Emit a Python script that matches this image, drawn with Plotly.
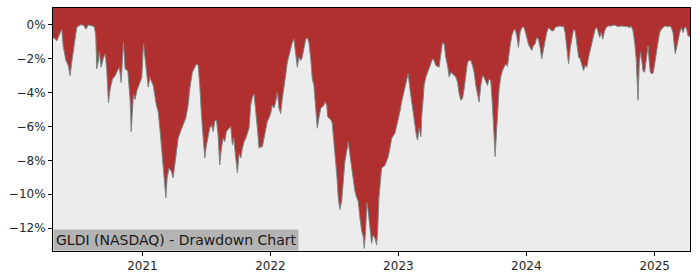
import pandas as pd
import plotly.graph_objects as go

# Decimal-year positions and drawdown values (%)
years = [
    2020.303, 2020.311, 2020.332, 2020.358, 2020.371, 2020.383, 2020.404, 2020.422, 2020.436, 2020.449,
    2020.467, 2020.488, 2020.514, 2020.539, 2020.560, 2020.578, 2020.605, 2020.625, 2020.636, 2020.644,
    2020.657, 2020.664, 2020.678, 2020.696, 2020.711, 2020.722, 2020.735, 2020.748, 2020.766, 2020.787,
    2020.805, 2020.820, 2020.834, 2020.852, 2020.865, 2020.886, 2020.904, 2020.912, 2020.930, 2020.943,
    2020.956, 2020.977, 2020.995, 2021.008, 2021.031, 2021.045, 2021.058, 2021.084, 2021.109, 2021.123,
    2021.136, 2021.148, 2021.162, 2021.175, 2021.183, 2021.193, 2021.208, 2021.226, 2021.240, 2021.253,
    2021.265, 2021.279, 2021.297, 2021.318, 2021.339, 2021.357, 2021.370, 2021.390, 2021.409, 2021.422,
    2021.435, 2021.448, 2021.461, 2021.474, 2021.487, 2021.500, 2021.513, 2021.526, 2021.539, 2021.552,
    2021.565, 2021.578, 2021.591, 2021.604, 2021.617, 2021.630, 2021.643, 2021.656, 2021.677, 2021.690,
    2021.703, 2021.714, 2021.729, 2021.742, 2021.755, 2021.768, 2021.781, 2021.794, 2021.807, 2021.820,
    2021.833, 2021.846, 2021.859, 2021.872, 2021.885, 2021.898, 2021.911, 2021.924, 2021.937, 2021.950,
    2021.963, 2021.976, 2021.989, 2022.002, 2022.015, 2022.028, 2022.041, 2022.054, 2022.067, 2022.080,
    2022.093, 2022.106, 2022.119, 2022.132, 2022.145, 2022.158, 2022.171, 2022.184, 2022.198, 2022.210,
    2022.223, 2022.237, 2022.249, 2022.262, 2022.276, 2022.288, 2022.301, 2022.315, 2022.327, 2022.340,
    2022.354, 2022.366, 2022.379, 2022.393, 2022.405, 2022.418, 2022.426, 2022.440, 2022.447, 2022.473,
    2022.483, 2022.499, 2022.510, 2022.520, 2022.530, 2022.543, 2022.557, 2022.569, 2022.582, 2022.596,
    2022.608, 2022.621, 2022.635, 2022.647, 2022.660, 2022.674, 2022.686, 2022.699, 2022.713, 2022.725,
    2022.733, 2022.744, 2022.754, 2022.764, 2022.778, 2022.791, 2022.803, 2022.817, 2022.830, 2022.838,
    2022.848, 2022.858, 2022.869, 2022.895, 2022.920, 2022.934, 2022.947, 2022.973, 2022.986, 2022.998,
    2023.012, 2023.025, 2023.037, 2023.051, 2023.064, 2023.076, 2023.090, 2023.103, 2023.116, 2023.129,
    2023.142, 2023.150, 2023.162, 2023.176, 2023.183, 2023.194, 2023.201, 2023.215, 2023.228, 2023.240,
    2023.254, 2023.267, 2023.279, 2023.293, 2023.306, 2023.318, 2023.332, 2023.345, 2023.358, 2023.371,
    2023.384, 2023.397, 2023.410, 2023.423, 2023.436, 2023.449, 2023.462, 2023.475, 2023.488, 2023.501,
    2023.514, 2023.527, 2023.540, 2023.553, 2023.566, 2023.579, 2023.592, 2023.605, 2023.618, 2023.631,
    2023.644, 2023.657, 2023.670, 2023.683, 2023.696, 2023.709, 2023.722, 2023.735, 2023.748, 2023.756,
    2023.767, 2023.774, 2023.787, 2023.800, 2023.813, 2023.826, 2023.839, 2023.852, 2023.860, 2023.873,
    2023.886, 2023.899, 2023.912, 2023.925, 2023.938, 2023.951, 2023.964, 2023.977, 2023.990, 2024.003,
    2024.016, 2024.029, 2024.042, 2024.055, 2024.068, 2024.081, 2024.094, 2024.107, 2024.120, 2024.134,
    2024.146, 2024.159, 2024.173, 2024.185, 2024.198, 2024.212, 2024.224, 2024.237, 2024.251, 2024.263,
    2024.276, 2024.290, 2024.302, 2024.315, 2024.329, 2024.341, 2024.354, 2024.368, 2024.380, 2024.393,
    2024.407, 2024.419, 2024.432, 2024.446, 2024.458, 2024.471, 2024.485, 2024.497, 2024.511, 2024.524,
    2024.536, 2024.550, 2024.563, 2024.571, 2024.583, 2024.596, 2024.610, 2024.622, 2024.635, 2024.661,
    2024.688, 2024.713, 2024.739, 2024.766, 2024.792, 2024.805, 2024.817, 2024.831, 2024.844, 2024.856,
    2024.870, 2024.880, 2024.891, 2024.901, 2024.909, 2024.922, 2024.934, 2024.948, 2024.956, 2024.966,
    2024.979, 2024.989, 2025.000, 2025.012, 2025.026, 2025.039, 2025.052, 2025.065, 2025.078, 2025.104,
    2025.117, 2025.130, 2025.143, 2025.151, 2025.161, 2025.172, 2025.182, 2025.195, 2025.208, 2025.221,
    2025.229, 2025.239, 2025.250, 2025.260, 2025.276,
]

drawdown = [
    -0.80, -0.75, -0.95, -0.45, -0.25, -1.30, -2.10, -2.40, -3.00, -2.20,
    -1.30, -0.15, 0.00, 0.00, -0.25, 0.00, -0.05, -0.10, -0.60, -2.60,
    -2.10, -1.60, -2.50, -1.95, -1.70, -2.70, -4.60, -3.80, -3.20, -3.00,
    -2.70, -2.50, -3.40, -1.00, -2.60, -2.70, -4.45, -6.30, -4.10, -4.40,
    -3.90, -3.50, -3.10, -1.10, -2.60, -3.67, -3.10, -3.57, -4.74, -5.13,
    -6.10, -7.08, -8.26, -9.62, -10.20, -9.03, -8.45, -8.65, -9.03, -8.26,
    -7.47, -6.70, -6.30, -5.90, -5.50, -4.74, -3.77, -2.80, -2.50, -2.30,
    -2.40, -3.57, -5.30, -6.90, -7.86, -7.10, -6.60, -6.10, -5.90, -6.30,
    -5.70, -5.60, -6.50, -8.26, -7.30, -6.70, -6.90, -6.30, -6.10, -6.00,
    -7.10, -6.70, -7.86, -8.74, -7.60, -7.86, -7.28, -6.90, -6.70, -6.40,
    -6.10, -4.74, -4.26, -4.07, -4.93, -6.10, -7.28, -7.20, -7.20, -6.70,
    -6.10, -5.70, -5.50, -5.23, -4.74, -4.90, -4.55, -3.96, -4.93, -5.23,
    -4.35, -3.77, -2.99, -2.20, -1.83, -1.42, -1.03, -0.84, -1.60, -2.50,
    -1.90, -2.10, -1.90, -1.42, -0.84, -0.75, -1.03, -2.00, -3.18, -3.57,
    -4.74, -6.10, -5.50, -4.93, -4.85, -4.74, -4.55, -4.74, -5.43, -5.60,
    -5.80, -7.08, -8.26, -9.00, -10.20, -10.90, -10.40, -9.00, -8.07, -7.47,
    -6.90, -7.67, -8.45, -8.84, -9.80, -10.20, -10.40, -11.37, -12.16, -12.50,
    -13.20, -12.16, -10.50, -11.00, -12.00, -12.90, -12.40, -12.60, -13.00, -12.20,
    -10.20, -9.20, -8.45, -8.30, -7.80, -7.28, -6.70, -6.40, -6.00, -5.50,
    -5.13, -4.55, -4.16, -3.77, -3.30, -2.89, -3.77, -4.55, -5.33, -5.90,
    -6.60, -6.80, -6.10, -6.60, -5.30, -4.35, -3.57, -3.08, -2.80, -2.50,
    -2.20, -2.00, -2.10, -2.40, -2.45, -2.50, -1.72, -1.03, -1.13, -1.95,
    -2.40, -3.08, -2.80, -2.90, -3.00, -3.08, -3.37, -4.07, -4.45, -4.35,
    -3.77, -2.80, -2.20, -2.10, -2.10, -2.40, -2.80, -3.57, -4.16, -4.55,
    -3.57, -3.00, -3.10, -3.37, -3.57, -3.20, -3.30, -4.74, -6.30, -7.77,
    -6.30, -5.10, -3.77, -3.08, -2.70, -2.50, -2.30, -2.45, -1.83, -1.23,
    -0.64, -0.35, -0.25, -0.64, -1.33, -0.45, -0.16, -0.10, -0.35, -0.74,
    -1.13, -1.33, -1.50, -1.23, -1.13, -0.74, -0.84, -1.33, -2.00, -1.42,
    -0.84, -0.45, -0.16, -0.25, -0.35, -0.35, -0.16, -0.10, -0.06, -0.06,
    -0.10, -0.06, -0.45, -1.42, -2.30, -1.42, -0.84, -0.25, -0.35, -1.03,
    -1.90, -2.00, -2.30, -2.70, -2.40, -2.50, -1.90, -1.52, -1.03, -0.64,
    -0.25, -0.16, -0.55, -0.74, -0.45, -0.84, -0.35, -0.16, -0.06, -0.06,
    0.00, -0.10, -0.06, -0.06, -0.10, -0.16, -0.06, -0.35, -1.03, -2.00,
    -4.45, -2.20, -1.62, -2.20, -2.70, -2.80, -2.10, -1.23, -2.00, -2.80,
    -2.90, -2.80, -2.30, -1.60, -1.03, -0.45, -0.25, -0.16, -0.06, -0.10,
    -0.06, -0.16, -0.45, -1.03, -1.70, -1.33, -0.84, -0.45, -0.16, -0.45,
    -0.25, -0.10, -0.25, -0.64, -0.70,
]

y_ticks = [0, -2, -4, -6, -8, -10, -12]
y_tick_labels = ["0%", "−2%", "−4%", "−6%", "−8%", "−10%", "−12%"]
x_tick_years = [2021, 2022, 2023, 2024, 2025]
x_tick_labels = ["2021", "2022", "2023", "2024", "2025"]

Y_TOP = 1.0
Y_BOTTOM = -13.35
X_START = 2020.303
X_END = 2025.276
TITLE = "GLDI (NASDAQ) - Drawdown Chart"


def to_date(y):
    base = pd.Timestamp(year=int(y), month=1, day=1)
    nxt = pd.Timestamp(year=int(y) + 1, month=1, day=1)
    return base + (nxt - base) * (y - int(y))


dates = [to_date(y) for y in years]
tick_dates = [pd.Timestamp(year=y, month=1, day=1) for y in x_tick_years]

RED = "#b03030"
BG = "#ececec"

fig = go.Figure()
fig.add_trace(go.Scatter(
    x=dates, y=[Y_TOP] * len(dates), mode="lines",
    line=dict(width=0, color=RED), hoverinfo="skip", showlegend=False,
))
fig.add_trace(go.Scatter(
    x=dates, y=drawdown, mode="lines", fill="tonexty", fillcolor=RED,
    line=dict(color="#7f8585", width=1), showlegend=False,
))

fig.update_layout(
    width=700, height=280,
    margin=dict(l=53, r=10, t=7, b=28),
    paper_bgcolor="white", plot_bgcolor=BG,
    font=dict(family="DejaVu Sans", size=12, color="#262626"),
    xaxis=dict(
        type="date",
        range=[to_date(X_START), to_date(X_END)],
        tickvals=tick_dates, ticktext=x_tick_labels,
        ticks="outside", ticklen=4, tickwidth=1, tickcolor="black",
        showgrid=False, zeroline=False,
        showline=True, linecolor="black", linewidth=1, mirror=True,
        tickfont=dict(size=12, color="#262626"),
    ),
    yaxis=dict(
        range=[Y_BOTTOM, Y_TOP],
        tickvals=y_ticks, ticktext=y_tick_labels,
        ticks="outside", ticklen=4, tickwidth=1, tickcolor="black",
        showgrid=False, zeroline=False,
        showline=True, linecolor="black", linewidth=1, mirror=True,
        tickfont=dict(size=12, color="#262626"),
    ),
    annotations=[dict(
        text=TITLE, xref="paper", yref="paper", x=0, y=0,
        xanchor="left", yanchor="bottom", showarrow=False,
        font=dict(family="DejaVu Sans", size=14, color="#1a1a1a"),
        bgcolor="#b3b3b3", borderpad=2,
    )],
)

fig.write_html("out.html")
